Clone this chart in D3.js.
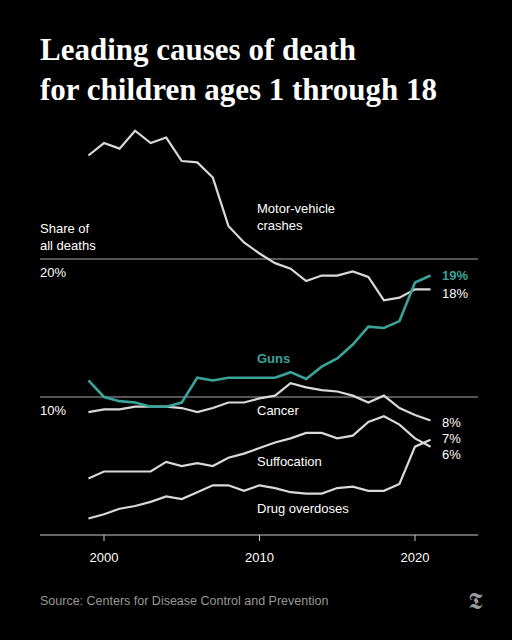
<!DOCTYPE html>
<html><head><meta charset="utf-8">
<script src="https://cdn.jsdelivr.net/npm/d3@7"></script>
<style>body{margin:0;background:#000}</style></head>
<body><div id="chart"></div>
<script>
// data (share of all deaths, %)
var years = d3.range(1999, 2022);
var motor = [27.5,28.4,28.0,29.3,28.4,28.8,27.1,27.0,25.9,22.4,21.2,20.4,19.7,19.3,18.4,18.8,18.8,19.1,18.7,17.0,17.2,17.8,17.8];
var guns = [11.2,10.0,9.7,9.6,9.3,9.3,9.6,11.4,11.2,11.4,11.4,11.4,11.4,11.8,11.3,12.2,12.8,13.8,15.1,15.0,15.5,18.3,18.8];
var cancer = [8.9,9.1,9.1,9.3,9.3,9.3,9.2,8.9,9.2,9.6,9.6,9.9,10.1,11.0,10.7,10.5,10.4,10.1,9.6,10.1,9.2,8.7,8.3];
var suffocation = [4.1,4.6,4.6,4.6,4.6,5.3,5.0,5.2,5.0,5.6,5.9,6.3,6.7,7.0,7.4,7.4,7.0,7.2,8.2,8.6,8.0,7.0,6.4];
var drugs = [1.2,1.5,1.9,2.1,2.4,2.8,2.6,3.1,3.6,3.6,3.2,3.6,3.4,3.1,3.0,3.0,3.4,3.5,3.2,3.2,3.7,6.4,6.9];
var xTicks = [2000, 2010, 2020];
var yTicks = [10, 20];

var svg = d3.select("#chart").append("svg").attr("width", 512).attr("height", 640)
  .style("background", "#000");

var x = d3.scaleLinear().domain([2000, 2020]).range([104, 415]);
var y = d3.scaleLinear().domain([0, 20]).range([535, 259]);
var grey = "#d9d9d9", teal = "#3aa39a";

svg.append("text").attr("x", 40).attr("y", 60).text("Leading causes of death")
  .attr("fill", "#fff").attr("font-family", "Liberation Serif").attr("font-weight", "bold").attr("font-size", 31);
svg.append("text").attr("x", 40).attr("y", 100).text("for children ages 1 through 18")
  .attr("fill", "#fff").attr("font-family", "Liberation Serif").attr("font-weight", "bold").attr("font-size", 31);

var font = "Liberation Sans";
// gridlines
yTicks.forEach(function(t) {
  svg.append("line").attr("x1", 40).attr("x2", 478).attr("y1", y(t)).attr("y2", y(t))
    .attr("stroke", "#aaa").attr("stroke-width", 1);
  svg.append("text").attr("x", 40).attr("y", y(t) + 18).text(t + "%")
    .attr("fill", "#fff").attr("font-family", font).attr("font-size", 13);
});
svg.append("text").attr("x", 40).attr("y", 233).text("Share of").attr("fill", "#fff").attr("font-family", font).attr("font-size", 13);
svg.append("text").attr("x", 40).attr("y", 250).text("all deaths").attr("fill", "#fff").attr("font-family", font).attr("font-size", 13);

// x axis
svg.append("line").attr("x1", 40).attr("x2", 478).attr("y1", 535).attr("y2", 535).attr("stroke", "#ccc");
xTicks.forEach(function(t) {
  svg.append("line").attr("x1", x(t)).attr("x2", x(t)).attr("y1", 535).attr("y2", 541).attr("stroke", "#ccc");
  svg.append("text").attr("x", x(t)).attr("y", 562).attr("text-anchor", "middle").text(t)
    .attr("fill", "#fff").attr("font-family", font).attr("font-size", 13);
});

var line = d3.line().x(function(d, i) { return x(years[i]); }).y(function(d) { return y(d); });
[motor, cancer, suffocation, drugs].forEach(function(s) {
  svg.append("path").attr("d", line(s)).attr("fill", "none").attr("stroke", grey).attr("stroke-width", 2.2);
});
svg.append("path").attr("d", line(guns)).attr("fill", "none").attr("stroke", teal).attr("stroke-width", 2.6);

function label(t, lx, ly, col, bold) {
  svg.append("text").attr("x", lx).attr("y", ly).text(t).attr("fill", col || "#fff")
    .attr("font-family", font).attr("font-size", 13).attr("font-weight", bold ? "bold" : "normal");
}
label("Motor-vehicle", 257, 213); label("crashes", 257, 230);
label("Guns", 257, 363, teal, true);
label("Cancer", 257, 415);
label("Suffocation", 257, 466);
label("Drug overdoses", 257, 513);
label("19%", 442, 280, teal, true);
label("18%", 442, 298);
label("8%", 442, 427);
label("7%", 442, 443);
label("6%", 442, 459);

svg.append("text").attr("x", 40).attr("y", 605).text("Source: Centers for Disease Control and Prevention")
  .attr("fill", "#999").attr("font-family", font).attr("font-size", 12.5);
svg.append("text").attr("x", 475).attr("y", 609).attr("text-anchor", "middle").text("𝕿")
  .attr("fill", "#999").attr("font-family", "DejaVu Serif").attr("font-size", 24);
</script></body></html>
